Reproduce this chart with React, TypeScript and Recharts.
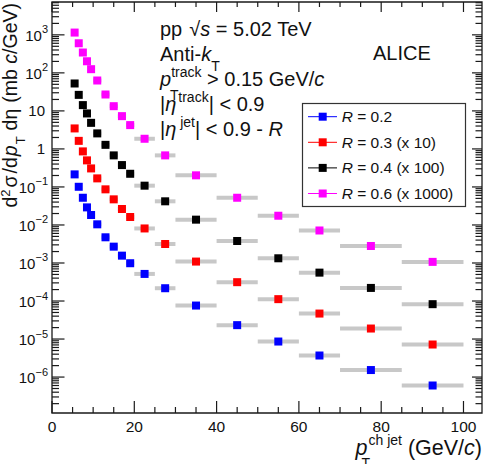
import React from 'react';
import { ScatterChart, Scatter, XAxis, YAxis, ErrorBar, ReferenceArea } from 'recharts';

const FONT = '"Liberation Sans", Arial, Helvetica, sans-serif';
const W = 487;
const H = 464;
const MARGIN = { top: 2, right: 5, bottom: 50, left: 51 };
const PLOT_LEFT = 52;
const PLOT_RIGHT = 482;
const PLOT_TOP = 2;
const PLOT_BOTTOM = 413;

const X_DOMAIN: [number, number] = [0, 104.5];
const Y_DOMAIN: [number, number] = [1.135e-7, 7310];

// jet pT bin edges (GeV/c)
const binEdges = [5, 6, 7, 8, 9, 10, 12, 14, 16, 18, 20, 25, 30, 40, 50, 60, 70, 85, 100];

// cross sections (mb c/GeV), already scaled as in the legend
const r02 = [0.214, 0.101, 0.052, 0.029, 0.0183, 0.0104, 0.00474, 0.00269, 0.00156, 0.000986, 0.000516, 0.000217, 7.6e-5, 2.32e-5, 8.6e-6, 3.69e-6, 1.53e-6, 6.0e-7];
const r03x10 = [3.46, 1.63, 0.861, 0.5, 0.307, 0.168, 0.0865, 0.0472, 0.0263, 0.0162, 0.0081, 0.00316, 0.00109, 0.000313, 0.000112, 4.68e-5, 1.89e-5, 7.18e-6];
const r04x100 = [52.6, 26.4, 14.2, 8.57, 4.85, 2.56, 1.28, 0.676, 0.376, 0.222, 0.108, 0.0419, 0.0138, 0.00379, 0.00133, 0.000558, 0.000221, 8.26e-5];
const r06x1000 = [1148, 601, 343, 202, 125, 63, 27, 13.3, 7.28, 4.23, 1.85, 0.676, 0.202, 0.052, 0.0175, 0.00716, 0.0028, 0.00107];

const seriesNames = [' = 0.2', ' = 0.3 (x 10)', ' = 0.4 (x 100)', ' = 0.6 (x 1000)'];
const seriesColors = ['#0000ff', '#ff0000', '#000000', '#ff00ff'];
const seriesValues = [r02, r03x10, r04x100, r06x1000];

const xTicks = [0, 5, 10, 15, 20, 25, 30, 35, 40, 45, 50, 55, 60, 65, 70, 75, 80, 85, 90, 95, 100];
const xMajorTicks = [0, 20, 40, 60, 80, 100];
const yDecades = [-7, -6, -5, -4, -3, -2, -1, 0, 1, 2, 3];
const yMultipliers = [1, 2, 3, 4, 5, 6, 7, 8, 9];
const yTicks = yDecades
  .flatMap((e) => yMultipliers.map((m) => Number((m * Math.pow(10, e)).toPrecision(3))))
  .filter((v) => v >= Y_DOMAIN[0] && v <= Y_DOMAIN[1]);

const makeRows = (values: number[]) =>
  values.map((v, i) => {
    const lo = binEdges[i];
    const hi = binEdges[i + 1];
    return { x: (lo + hi) / 2, y: v, ex: (hi - lo) / 2 };
  });

const AXIS_COLOR = '#1a1a1a';
const TEXT_COLOR = '#111';

const XTick = (props: any) => {
  const { x, payload } = props;
  const v = payload.value;
  const major = xMajorTicks.includes(v);
  return (
    <g>
      <line x1={x} x2={x} y1={PLOT_BOTTOM} y2={PLOT_BOTTOM - (major ? 12 : 6)} stroke={AXIS_COLOR} strokeWidth={1.2} />
      <line x1={x} x2={x} y1={PLOT_TOP} y2={PLOT_TOP + (major ? 10 : 5)} stroke={AXIS_COLOR} strokeWidth={1.2} />
      {major && (
        <text x={x} y={PLOT_BOTTOM + 19} textAnchor="middle" fontSize={15.5} fill={TEXT_COLOR} fontFamily={FONT}>
          {v}
        </text>
      )}
    </g>
  );
};

const YTick = (props: any) => {
  const { y, payload } = props;
  const v = payload.value;
  const lg = Math.log10(v);
  const e = Math.round(lg);
  const major = Math.abs(lg - e) < 1e-6;
  const x = PLOT_LEFT;
  let label: React.ReactNode = null;
  if (major && e >= -6) {
    if (e === 0 || e === 1) {
      label = (
        <text x={x - 7} y={y + 5.5} textAnchor="end" fontSize={15} fill={TEXT_COLOR} fontFamily={FONT}>
          {e === 0 ? '1' : '10'}
        </text>
      );
    } else {
      label = (
        <text x={x - 4} y={y + 6} textAnchor="end" fontSize={15} fill={TEXT_COLOR} fontFamily={FONT}>
          10
          <tspan dy={-7.5} fontSize={11}>
            {e < 0 ? '\u2212' + Math.abs(e) : String(e)}
          </tspan>
        </text>
      );
    }
  }
  return (
    <g>
      <line x1={x} x2={x + (major ? 12.5 : 7)} y1={y} y2={y} stroke={AXIS_COLOR} strokeWidth={1.2} />
      <line x1={PLOT_RIGHT} x2={PLOT_RIGHT - (major ? 10 : 6.5)} y1={y} y2={y} stroke={AXIS_COLOR} strokeWidth={1.2} />
      {label}
    </g>
  );
};

const squareShape = (color: string) => (p: any) =>
  <rect x={p.cx - 4} y={p.cy - 4} width={8} height={8} fill={color} />;

const LEGEND_BOX = { x: 302.5, y: 103.5, w: 163, h: 103 };
const LEGEND_ROW0 = 116.7;
const LEGEND_STEP = 25.6;

export default function App() {
  return (
    <div style={{ position: 'absolute', left: 0, top: 0, width: W, height: H, background: '#fff' }}>
      <ScatterChart width={W} height={H} margin={MARGIN}>
        <XAxis
          type="number"
          dataKey="x"
          domain={X_DOMAIN}
          allowDataOverflow
          ticks={xTicks}
          interval={0}
          height={1}
          tickSize={0}
          tickMargin={0}
          axisLine={false}
          tickLine={false}
          tick={(p: any) => <XTick {...p} />}
        />
        <YAxis
          type="number"
          dataKey="y"
          scale="log"
          domain={Y_DOMAIN}
          allowDataOverflow
          ticks={yTicks}
          interval={0}
          width={1}
          tickSize={0}
          tickMargin={0}
          axisLine={false}
          tickLine={false}
          tick={(p: any) => <YTick {...p} />}
        />
        <ReferenceArea
          x1={X_DOMAIN[0]}
          x2={X_DOMAIN[1]}
          y1={Y_DOMAIN[0]}
          y2={Y_DOMAIN[1]}
          fill="none"
          fillOpacity={0}
          stroke={AXIS_COLOR}
          strokeWidth={1.3}
          ifOverflow="visible"
        />
        {seriesValues.map((vals, i) => (
          <Scatter
            key={i}
            name={'R' + seriesNames[i]}
            data={makeRows(vals)}
            dataKey="y"
            fill={seriesColors[i]}
            shape={squareShape(seriesColors[i])}
            isAnimationActive={false}
          >
            <ErrorBar dataKey="ex" direction="x" width={0} stroke="#c8c8c8" strokeWidth={4} />
          </Scatter>
        ))}
      </ScatterChart>
      <svg
        width={W}
        height={H}
        style={{ position: 'absolute', left: 0, top: 0, pointerEvents: 'none' }}
        fontFamily={FONT}
      >
        {/* y axis title */}
        <text transform="rotate(-90)" x={-3} y={16.5} textAnchor="end" fontSize={19.5} fill={TEXT_COLOR}>
          d<tspan dy={-7} fontSize={13}>2</tspan>
          <tspan dy={7} dx={2}>σ</tspan>
          <tspan dx={2}>/d</tspan>
          <tspan dx={1} fontStyle="italic">p</tspan>
          <tspan dx={1} dy={8} fontSize={13}>T</tspan>
          <tspan dx={6} dy={-8}>dη</tspan>
          <tspan dx={6}>(mb </tspan>
          <tspan fontStyle="italic">c</tspan>
          <tspan>/GeV)</tspan>
        </text>
        {/* x axis title */}
        <text x={482} y={455} textAnchor="end" fontSize={21.5} fill={TEXT_COLOR}>
          <tspan fontStyle="italic">p</tspan>
          <tspan dx={-6} dy={13} fontSize={14}>T</tspan>
          <tspan dy={-23} fontSize={14}>ch jet</tspan>
          <tspan dy={10}> (GeV/</tspan>
          <tspan fontStyle="italic">c</tspan>
          <tspan>)</tspan>
        </text>
        {/* annotation block */}
        <g fontSize={20} fill={TEXT_COLOR}>
          <text x={160} y={36}>
            pp<tspan dx={7}>√</tspan>
            <tspan fontStyle="italic">s</tspan> = 5.02 TeV
          </text>
          <text x={160} y={61}>
            Anti-<tspan fontStyle="italic">k</tspan>
            <tspan dy={10} fontSize={14}>T</tspan>
          </text>
          <text x={160} y={86}>
            <tspan fontStyle="italic">p</tspan>
            <tspan dy={-9} fontSize={14}>track</tspan>
            <tspan dy={9}> &gt; 0.15 GeV/</tspan>
            <tspan fontStyle="italic">c</tspan>
          </text>
          <text x={170} y={100} fontSize={14}>T</text>
          <text x={160} y={111}>
            |<tspan fontStyle="italic">η</tspan>
            <tspan dx={2} dy={-9} fontSize={14}>track</tspan>
            <tspan dy={9}>| &lt; 0.9</tspan>
          </text>
          <text x={160} y={136}>
            |<tspan fontStyle="italic">η</tspan>
            <tspan dy={-9} fontSize={14}> jet</tspan>
            <tspan dy={9}>| &lt; 0.9 - </tspan>
            <tspan fontStyle="italic">R</tspan>
          </text>
          <text x={373} y={60}>ALICE</text>
        </g>
        {/* legend */}
        <rect
          x={LEGEND_BOX.x}
          y={LEGEND_BOX.y}
          width={LEGEND_BOX.w}
          height={LEGEND_BOX.h}
          fill="#fff"
          stroke="#333"
          strokeWidth={1.2}
        />
        {seriesNames.map((name, i) => {
          const cy = LEGEND_ROW0 + i * LEGEND_STEP;
          return (
            <g key={name}>
              <line x1={308} x2={337} y1={cy} y2={cy} stroke={seriesColors[i]} strokeWidth={1} />
              <rect x={318.7} y={cy - 4} width={8} height={8} fill={seriesColors[i]} />
              <text x={341.7} y={cy + 5.5} fontSize={15.5} fill={TEXT_COLOR}>
                <tspan fontStyle="italic">R</tspan>
                {name}
              </text>
            </g>
          );
        })}
      </svg>
    </div>
  );
}
